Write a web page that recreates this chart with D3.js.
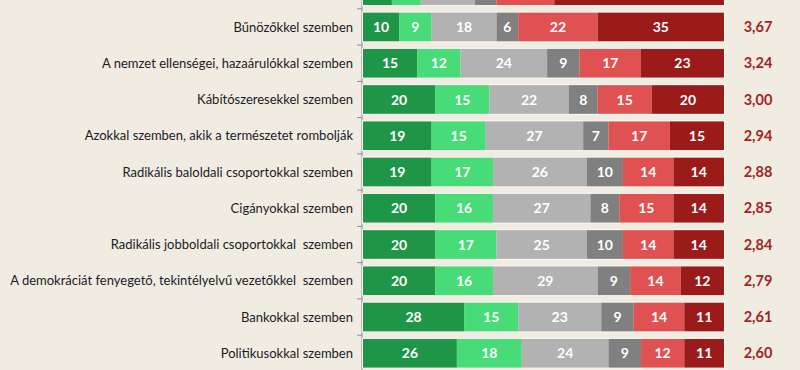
<!DOCTYPE html>
<html>
<head>
<meta charset="utf-8">
<script src="https://cdn.jsdelivr.net/npm/d3@7"></script>
<style>
  html, body { margin: 0; padding: 0; background: #f0ece2; }
  svg { display: block; }
</style>
</head>
<body>
<div id="chart"></div>
<script>
// Categories, top to bottom (first row is cut off at the top edge of the picture)
const CATEGORIES = [
  '',
  'Bűnözőkkel szemben',
  'A nemzet ellenségei, hazaárulókkal szemben',
  'Kábítószeresekkel szemben',
  'Azokkal szemben, akik a természetet rombolják',
  'Radikális baloldali csoportokkal szemben',
  'Cigányokkal szemben',
  'Radikális jobboldali csoportokkal  szemben',
  'A demokráciát fenyegető, tekintélyelvű vezetőkkel  szemben',
  'Bankokkal szemben',
  'Politikusokkal szemben'
]

// Six answer groups, one value per category (percent)
const S1 = [8, 10, 15, 20, 19, 19, 20, 20, 20, 28, 26]
const S2 = [8, 9, 12, 15, 15, 17, 16, 17, 16, 15, 18]
const S3 = [15, 18, 24, 22, 27, 26, 27, 25, 29, 23, 24]
const S4 = [6, 6, 9, 8, 7, 10, 8, 10, 9, 9, 9]
const S5 = [16, 22, 17, 15, 17, 14, 15, 14, 14, 14, 12]
const S6 = [47, 35, 23, 20, 15, 14, 14, 14, 12, 11, 11]

// Mean score shown at the right
const MEANS = ['', '3,67', '3,24', '3,00', '2,94', '2,88', '2,85', '2,84', '2,79', '2,61', '2,60']

const COLORS = ['#1f9647', '#47dc78', '#b2b2b2', '#808080', '#e05252', '#9b1b1b']

const W = 800
const H = 370
const svg = d3.select('#chart').append('svg')
  .attr('width', W)
  .attr('height', H)

svg.append('rect').attr('width', W).attr('height', H).attr('fill', '#f0ece2')

const series = [S1, S2, S3, S4, S5, S6]
const rows = CATEGORIES.map((c, i) => {
  const vals = series.map(s => s[i])
  let acc = 0
  const segs = vals.map((v, k) => {
    const s = { k, v, x0: acc, x1: acc + v, show: c !== '' }
    acc += v
    return s
  })
  return { i, cat: c, mean: MEANS[i], segs }
})

const x = d3.scaleLinear().domain([0, 100]).range([363, 724])

const y = d3.scaleBand()
  .domain(rows.map(r => r.i))
  .range([-27.4, 371.4])
  .paddingInner(0.21)
  .paddingOuter(0.105)

const axisX = 362

// Axis line + ticks between bands
svg.append('line')
  .attr('x1', axisX).attr('x2', axisX)
  .attr('y1', 0).attr('y2', H)
  .attr('stroke', '#8c8c8c').attr('stroke-width', 1)

svg.selectAll('.tick-mark')
  .data(rows)
  .enter().append('line')
  .attr('class', 'tick-mark')
  .attr('x1', axisX - 5).attr('x2', axisX)
  .attr('y1', d => y(d.i) - (y.step() - y.bandwidth()) / 2)
  .attr('y2', d => y(d.i) - (y.step() - y.bandwidth()) / 2)
  .attr('stroke', '#8c8c8c').attr('stroke-width', 1)

const row = svg.selectAll('.row')
  .data(rows)
  .enter().append('g')
  .attr('class', 'row')
  .attr('transform', d => `translate(0,${y(d.i)})`)

// Bar outline
row.append('rect')
  .attr('x', x(0) - 0.5)
  .attr('y', -0.5)
  .attr('width', x(100) - x(0) + 1)
  .attr('height', y.bandwidth() + 1)
  .attr('fill', 'none')
  .attr('stroke', '#fbf9f4')
  .attr('stroke-width', 1)

row.selectAll('.seg')
  .data(d => d.segs)
  .enter().append('rect')
  .attr('class', 'seg')
  .attr('x', d => x(d.x0))
  .attr('y', 0)
  .attr('width', d => x(d.x1) - x(d.x0))
  .attr('height', y.bandwidth())
  .attr('fill', d => COLORS[d.k])

// values inside segments (the cut-off top row shows none)
row.selectAll('.seg-label')
  .data(d => d.segs.filter(s => s.show))
  .enter().append('text')
  .attr('class', 'seg-label')
  .attr('x', d => (x(d.x0) + x(d.x1)) / 2)
  .attr('y', y.bandwidth() / 2)
  .attr('dy', '0.36em')
  .attr('text-anchor', 'middle')
  .attr('fill', '#ffffff')
  .attr('font-family', 'Lato, sans-serif')
  .attr('font-weight', 'bold')
  .attr('font-size', 14)
  .text(d => d.v)

// Category labels
row.append('text')
  .attr('x', axisX - 9)
  .attr('y', y.bandwidth() / 2)
  .attr('dy', '0.35em')
  .attr('text-anchor', 'end')
  .attr('fill', '#1b1b26')
  .attr('font-family', 'Lato, sans-serif')
  .attr('font-size', 13)
  .style('white-space', 'pre')
  .text(d => d.cat)

// Mean values
row.append('text')
  .attr('x', 758)
  .attr('y', y.bandwidth() / 2)
  .attr('dy', '0.36em')
  .attr('text-anchor', 'middle')
  .attr('fill', '#a02626')
  .attr('font-family', 'Lato, sans-serif')
  .attr('font-weight', 'bold')
  .attr('font-size', 14.5)
  .text(d => d.mean)
</script>
</body>
</html>
